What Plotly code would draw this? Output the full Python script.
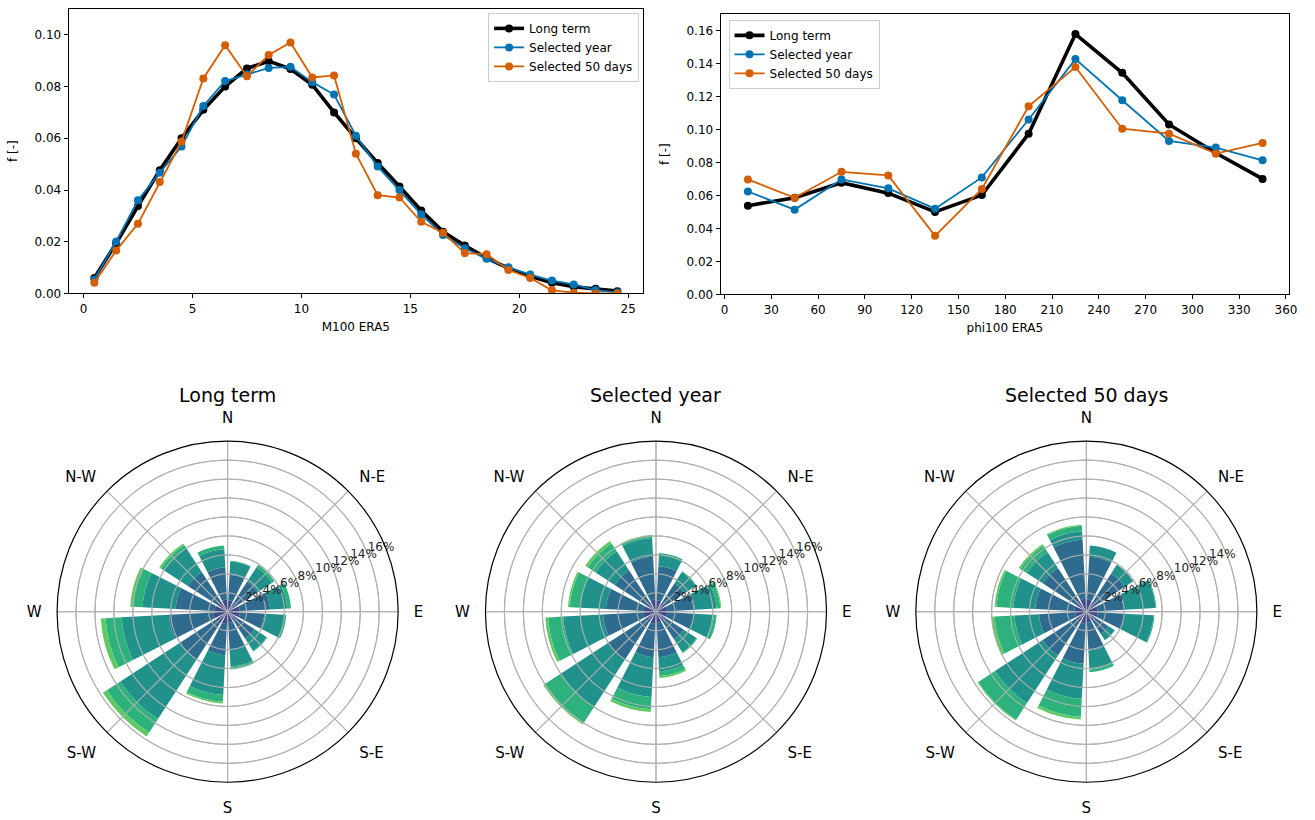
import plotly.graph_objects as go
import numpy as np

FONT = "DejaVu Sans"

# ---------------- top-left: speed distribution ----------------
speed_bins = [0.5, 1.5, 2.5, 3.5, 4.5, 5.5, 6.5, 7.5, 8.5, 9.5, 10.5, 11.5, 12.5,
              13.5, 14.5, 15.5, 16.5, 17.5, 18.5, 19.5, 20.5, 21.5, 22.5, 23.5, 24.5]
speed_long_term = [0.0060, 0.0194, 0.0338, 0.0476, 0.0600, 0.0710, 0.0800, 0.0870, 0.0898,
                   0.0868, 0.0807, 0.0700, 0.0600, 0.0504, 0.0414, 0.0321, 0.0239, 0.0185,
                   0.0137, 0.0098, 0.0066, 0.0041, 0.0026, 0.0018, 0.0009]
speed_sel_year = [0.0054, 0.0201, 0.0360, 0.0467, 0.0568, 0.0725, 0.0821, 0.0847, 0.0872,
                  0.0876, 0.0817, 0.0769, 0.0610, 0.0491, 0.0400, 0.0306, 0.0226, 0.0175,
                  0.0134, 0.0101, 0.0073, 0.0050, 0.0035, 0.0013, 0.0004]
speed_sel_50d = [0.0041, 0.0166, 0.0270, 0.0431, 0.0587, 0.0831, 0.0960, 0.0840, 0.0922,
                 0.0970, 0.0835, 0.0843, 0.0540, 0.0380, 0.0371, 0.0277, 0.0235, 0.0156,
                 0.0152, 0.0091, 0.0060, 0.0012, 0.0003, 0.0000, 0.0000]

# ---------------- top-right: direction distribution ----------------
dir_bins = [15, 45, 75, 105, 135, 165, 195, 225, 255, 285, 315, 345]
dir_long_term = [0.0538, 0.0586, 0.0677, 0.0614, 0.0500, 0.0602, 0.0974, 0.1578, 0.1343,
                 0.1030, 0.0857, 0.0700]
dir_sel_year = [0.0624, 0.0514, 0.0697, 0.0643, 0.0520, 0.0709, 0.1060, 0.1426, 0.1177,
                0.0930, 0.0890, 0.0813]
dir_sel_50d = [0.0697, 0.0586, 0.0743, 0.0721, 0.0355, 0.0639, 0.1140, 0.1378, 0.1004,
               0.0974, 0.0853, 0.0918]

series_names = ["Long term", "Selected year", "Selected 50 days"]
line_colors = ["#000000", "#0173b2", "#d55e00"]
line_widths = [3.6, 1.8, 1.8]

# ---------------- wind roses: % per sector, stacked by speed class ----------------
speed_classes = ["0-5", "5-10", "10-15", "15-20", "20-25"]
class_colors = ["#3e4a89", "#2e6b8e", "#21918c", "#2db27d", "#5ec962"]
rose_long_term = [
    [1.2, 1.2, 1.3, 1.3, 1.2, 1.2, 1.3, 1.5, 1.5, 1.4, 1.3, 1.3],
    [2.7, 2.6, 3.2, 2.6, 2.2, 2.8, 3.3, 4.5, 4.7, 4.1, 3.7, 3.4],
    [1.4, 1.8, 1.8, 2.1, 1.5, 1.8, 4.2, 7.5, 5.0, 3.5, 3.0, 1.9],
    [0.1, 0.3, 0.4, 0.2, 0.1, 0.3, 0.7, 1.7, 1.7, 1.0, 0.4, 0.4],
    [0.0, 0.0, 0.0, 0.0, 0.0, 0.0, 0.2, 0.5, 0.5, 0.3, 0.2, 0.0],
]
rose_sel_year = [
    [1.2, 1.2, 1.2, 1.2, 1.2, 1.2, 1.3, 1.4, 1.4, 1.3, 1.3, 1.3],
    [3.6, 2.4, 2.9, 2.8, 2.3, 3.6, 3.5, 4.6, 4.2, 4.0, 3.9, 4.5],
    [1.2, 1.4, 2.3, 2.1, 1.6, 1.5, 4.2, 6.0, 4.2, 2.7, 2.4, 2.0],
    [0.2, 0.1, 0.4, 0.3, 0.1, 0.5, 1.3, 2.0, 1.6, 1.1, 1.0, 0.2],
    [0.0, 0.0, 0.1, 0.0, 0.0, 0.2, 0.3, 0.2, 0.3, 0.2, 0.3, 0.1],
]
rose_sel_50d = [
    [1.3, 1.2, 1.2, 1.2, 1.1, 1.2, 1.3, 1.3, 1.2, 1.3, 1.3, 1.4],
    [4.5, 3.6, 2.8, 2.8, 1.7, 2.9, 4.2, 4.2, 3.8, 4.1, 4.2, 6.2],
    [1.2, 1.1, 3.3, 3.1, 0.8, 2.0, 3.7, 6.0, 2.6, 2.3, 2.0, 0.9],
    [0.0, 0.0, 0.1, 0.1, 0.0, 0.3, 1.9, 2.1, 2.1, 1.8, 0.8, 0.6],
    [0.0, 0.0, 0.0, 0.0, 0.0, 0.0, 0.3, 0.1, 0.3, 0.2, 0.2, 0.1],
]
rose_data = [rose_long_term, rose_sel_year, rose_sel_50d]
compass_angles = [0, 45, 90, 135, 180, 225, 270, 315]
compass_labels = ["N", "N-E", "E", "S-E", "S", "S-W", "W", "N-W"]
radial_ticks = [2, 4, 6, 8, 10, 12, 14, 16]
radial_labels = [
    [f"{v}%" for v in radial_ticks],
    [f"{v}%" for v in radial_ticks],
    [f"{v}%" for v in radial_ticks[:-1]] + [""],
]
radial_label_theta = 67.5  # compass angle of the radial label line
sector_width = 24
r_max = 18

W, H = 1315, 820


def fx(x):
    return x / W


def fy(y):
    return 1 - y / H


fig = go.Figure()

for name, col, lw, ys in zip(series_names, line_colors, line_widths,
                             [speed_long_term, speed_sel_year, speed_sel_50d]):
    fig.add_trace(go.Scatter(x=speed_bins, y=ys, mode="lines+markers", name=name,
                             line=dict(color=col, width=lw),
                             marker=dict(color=col, size=8),
                             xaxis="x", yaxis="y", legend="legend"))
for name, col, lw, ys in zip(series_names, line_colors, line_widths,
                             [dir_long_term, dir_sel_year, dir_sel_50d]):
    fig.add_trace(go.Scatter(x=dir_bins, y=ys, mode="lines+markers", name=name,
                             line=dict(color=col, width=lw),
                             marker=dict(color=col, size=8),
                             xaxis="x2", yaxis="y2", legend="legend2"))

polar_names = ["polar", "polar2", "polar3"]
theta_circle = np.linspace(0, 360, 361)
for k, (pname, rdata) in enumerate(zip(polar_names, rose_data)):
    for cls, col, vals in zip(speed_classes, class_colors, rdata):
        fig.add_trace(go.Barpolar(r=vals, theta=dir_bins, width=sector_width,
                                  marker=dict(color=col, line=dict(width=0)),
                                  name=cls, showlegend=False, subplot=pname))
    # grid overlay (matplotlib draws the grid above the bars)
    rr, tt = [], []
    for v in radial_ticks:
        rr += [v] * len(theta_circle) + [None]
        tt += list(theta_circle) + [None]
    for a in compass_angles:
        rr += [0, r_max, None]
        tt += [a, a, None]
    fig.add_trace(go.Scatterpolar(r=rr, theta=tt, mode="lines",
                                  line=dict(color="#b0b0b0", width=1.1),
                                  hoverinfo="skip", showlegend=False, subplot=pname))
    # radial tick labels, left-aligned at the tick position like matplotlib
    fig.add_trace(go.Scatterpolar(r=radial_ticks, theta=[radial_label_theta] * len(radial_ticks),
                                  mode="text", text=radial_labels[k],
                                  textposition="top right",
                                  textfont=dict(size=12, family=FONT, color="#222222"),
                                  hoverinfo="skip", showlegend=False, subplot=pname))

axis_common = dict(showline=True, mirror=True, linecolor="black", linewidth=1,
                   ticks="outside", ticklen=4, tickcolor="black", showgrid=False,
                   zeroline=False, tickfont=dict(size=12, family=FONT, color="black"))

centers_x = [229, 660, 1093]
cy, rad = 617, 172
layout_polars = {}
for k, pname in enumerate(polar_names):
    cx = centers_x[k]
    layout_polars[pname] = dict(
        domain=dict(x=[fx(cx - rad), fx(cx + rad)],
                    y=[fy(cy + rad), fy(cy - rad)]),
        bgcolor="white",
        barmode="stack",
        angularaxis=dict(rotation=90, direction="clockwise",
                         tickmode="array", tickvals=compass_angles, ticktext=compass_labels,
                         tickfont=dict(size=15, family=FONT, color="black"),
                         ticks="outside", ticklen=12, tickcolor="rgba(0,0,0,0)",
                         showline=True, linecolor="black", linewidth=1.2,
                         showgrid=True, gridcolor="#b0b0b0", gridwidth=1.1),
        radialaxis=dict(range=[0, r_max], tickmode="array", tickvals=radial_ticks,
                        showticklabels=False, showline=False, ticks="",
                        showgrid=True, gridcolor="#b0b0b0", gridwidth=1.1),
    )

fig.update_layout(
    width=W, height=H,
    margin=dict(l=0, r=0, t=0, b=0),
    paper_bgcolor="white", plot_bgcolor="white",
    font=dict(family=FONT, size=12, color="black"),
    xaxis=dict(domain=[fx(69), fx(647)], range=[-0.684, 25.68], tickvals=[0, 5, 10, 15, 20, 25],
               title=dict(text="M100 ERA5", font=dict(size=12), standoff=7), anchor="y",
               **axis_common),
    yaxis=dict(domain=[fy(296), fy(9)], range=[0, 0.11],
               tickvals=[0, 0.02, 0.04, 0.06, 0.08, 0.10], tickformat=".2f",
               title=dict(text="f [-]", font=dict(size=12), standoff=14), anchor="x",
               **axis_common),
    xaxis2=dict(domain=[fx(725), fx(1297)], range=[-2.5, 362], tickvals=list(range(0, 361, 30)),
                title=dict(text="phi100 ERA5", font=dict(size=12), standoff=7), anchor="y2",
                **axis_common),
    yaxis2=dict(domain=[fy(297), fy(14)], range=[0, 0.17],
                tickvals=[0, 0.02, 0.04, 0.06, 0.08, 0.10, 0.12, 0.14, 0.16], tickformat=".2f",
                title=dict(text="f [-]", font=dict(size=12), standoff=14), anchor="x2",
                **axis_common),
    legend=dict(x=fx(643), y=fy(13), xanchor="right", yanchor="top", itemwidth=30,
                bgcolor="rgba(255,255,255,0.8)", bordercolor="#cccccc", borderwidth=1,
                font=dict(size=12, family=FONT)),
    legend2=dict(x=fx(733), y=fy(20), xanchor="left", yanchor="top", itemwidth=30,
                 bgcolor="rgba(255,255,255,0.8)", bordercolor="#cccccc", borderwidth=1,
                 font=dict(size=12, family=FONT)),
    showlegend=True,
    **layout_polars,
)

for cx, title in zip(centers_x, series_names):
    fig.add_annotation(x=fx(cx), y=fy(398), xref="paper", yref="paper",
                       text=title, showarrow=False, xanchor="center", yanchor="middle",
                       font=dict(size=19, family=FONT, color="black"))

# remove the default page margin so the figure fills the window exactly
fig.write_html("out.html", config={"displayModeBar": False},
               post_script="document.body.style.margin='0';document.body.style.overflow='hidden';")
